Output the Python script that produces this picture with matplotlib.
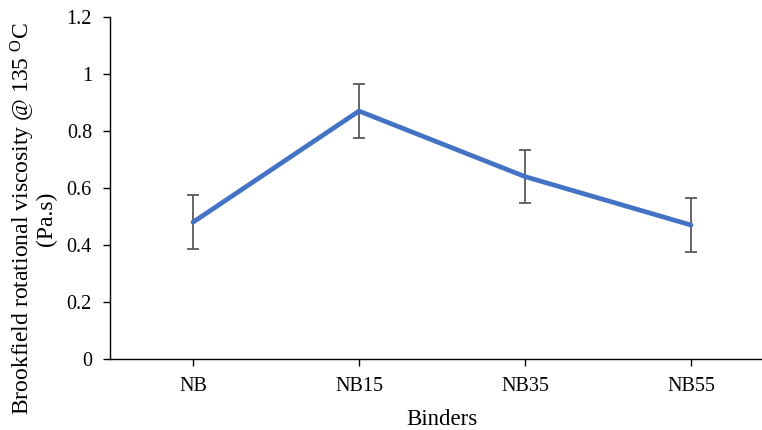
import matplotlib
matplotlib.use("Agg")
import matplotlib.pyplot as plt

plt.rcParams["font.family"] = ["Liberation Serif", "DejaVu Serif"]
plt.rcParams["mathtext.fontset"] = "custom"
plt.rcParams["mathtext.rm"] = "Liberation Serif"
plt.rcParams["mathtext.it"] = "Liberation Serif:italic"

binders = ["NB", "NB15", "NB35", "NB55"]
viscosity = [0.48, 0.87, 0.64, 0.47]
std_error = [0.094, 0.094, 0.094, 0.094]
y_ticks = [0, 0.2, 0.4, 0.6, 0.8, 1.0, 1.2]
y_tick_labels = ["0", "0.2", "0.4", "0.6", "0.8", "1", "1.2"]

fig = plt.figure(figsize=(7.62, 4.30), dpi=100)
ax = fig.add_axes([110 / 762, 71 / 430, 664 / 762, 342 / 430])

x = list(range(len(binders)))
ax.errorbar(x, viscosity, yerr=std_error, fmt="none", ecolor="#595959",
            elinewidth=1.3, capsize=4.5, capthick=1.3, zorder=2)
ax.plot(x, viscosity, color="#4472C4", linewidth=3.4,
        solid_capstyle="round", solid_joinstyle="round", zorder=3)

ax.set_xlim(-0.5, len(binders) - 0.5)
ax.set_ylim(0, 1.2)
ax.set_xticks(x)
ax.set_xticklabels(binders)
ax.set_yticks(y_ticks)
ax.set_yticklabels(y_tick_labels)

for side in ("top", "right"):
    ax.spines[side].set_visible(False)
for side in ("left", "bottom"):
    ax.spines[side].set_linewidth(1.0)
    ax.spines[side].set_color("black")

ax.tick_params(axis="both", direction="out", length=5, width=1.0,
               colors="black", labelsize=14.5, pad=8)

ax.set_xlabel("Binders", fontsize=16.5, labelpad=9)

# Y axis title, centred on the figure height
fig.text(0.043, 0.492,
         "Brookfield rotational viscosity @ 135 $^{\\mathrm{O}}$C\n(Pa.s)",
         rotation=90, ha="center", va="center", multialignment="center",
         fontsize=17, linespacing=0.95)

fig.savefig("out.png", dpi=100)
